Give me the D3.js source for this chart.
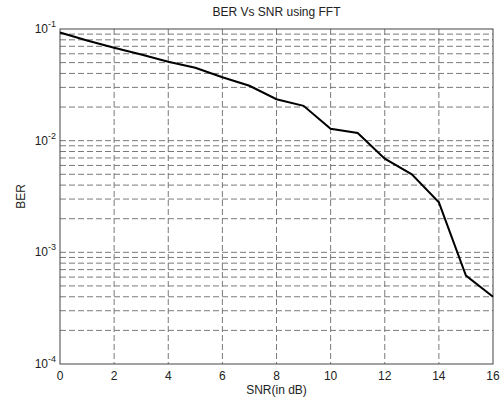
<!DOCTYPE html>
<html><head><meta charset="utf-8">
<script src="https://cdn.jsdelivr.net/npm/d3@7"></script>
<style>body{margin:0;background:#fff}svg{display:block}text{font-family:"Liberation Sans",Arial,sans-serif;fill:#222}</style>
</head><body><svg id="c" width="503" height="403"></svg>
<script>
const snr = [0,1,2,3,4,5,6,7,8,9,10,11,12,13,14,15,16];
const ber = [0.093,0.079,0.068,0.059,0.051,0.045,0.037,0.031,0.0235,0.0205,0.0128,0.0117,0.0069,0.005,0.0028,0.00062,0.0004];
const xTicks = [0,2,4,6,8,10,12,14,16];
const yDecades = [-4,-3,-2,-1];
const title = "BER Vs SNR using FFT";
const xLabel = "SNR(in dB)";
const yLabel = "BER";

const svg = d3.select("#c");
const L=60,R=493,T=29,B=364;
const x = d3.scaleLinear().domain([0,16]).range([L,R]);
const y = d3.scaleLog().domain([1e-4,1e-1]).range([B,T]);

// grid
const minors=[];
[-4,-3,-2].forEach(e=>{for(let m=1;m<=9;m++){const v=m*Math.pow(10,e); if(v>1e-4) minors.push(v);}});
svg.append("g").selectAll("line").data(minors).join("line")
  .attr("x1",L).attr("x2",R).attr("y1",d=>y(d)).attr("y2",d=>y(d))
  .attr("stroke","#7a7a7a").attr("stroke-width",1).attr("stroke-dasharray","6,3");
svg.append("g").selectAll("line").data(xTicks.slice(1,-1)).join("line")
  .attr("x1",d=>x(d)).attr("x2",d=>x(d)).attr("y1",T).attr("y2",B)
  .attr("stroke","#7a7a7a").attr("stroke-width",1).attr("stroke-dasharray","6,3");

// box
svg.append("rect").attr("x",L).attr("y",T).attr("width",R-L).attr("height",B-T)
  .attr("fill","none").attr("stroke","#444").attr("stroke-width",1);

// x ticks labels
svg.append("g").selectAll("text").data(xTicks).join("text")
  .attr("x",d=>x(d)).attr("y",B+16).attr("text-anchor","middle").attr("font-size",12).text(d=>d);

// y labels
const yl = svg.append("g").selectAll("g").data(yDecades).join("g")
  .attr("transform",d=>`translate(${L-3},${y(Math.pow(10,d))+4})`);
yl.append("text").attr("x",-9).attr("text-anchor","end").attr("font-size",12).text("10");
yl.append("text").attr("x",-9).attr("y",-6).attr("font-size",9).text(d=>d);

// line
svg.append("path").datum(snr.map((s,i)=>[s,ber[i]]))
  .attr("d",d3.line().x(d=>x(d[0])).y(d=>y(d[1])))
  .attr("fill","none").attr("stroke","#000").attr("stroke-width",2);

svg.append("text").attr("x",(L+R)/2).attr("y",16).attr("text-anchor","middle").attr("font-size",12).text(title);
svg.append("text").attr("x",(L+R)/2).attr("y",394).attr("text-anchor","middle").attr("font-size",12).text(xLabel);
svg.append("text").attr("transform",`translate(25,${(T+B)/2}) rotate(-90)`).attr("text-anchor","middle").attr("font-size",12).text(yLabel);
</script></body></html>
